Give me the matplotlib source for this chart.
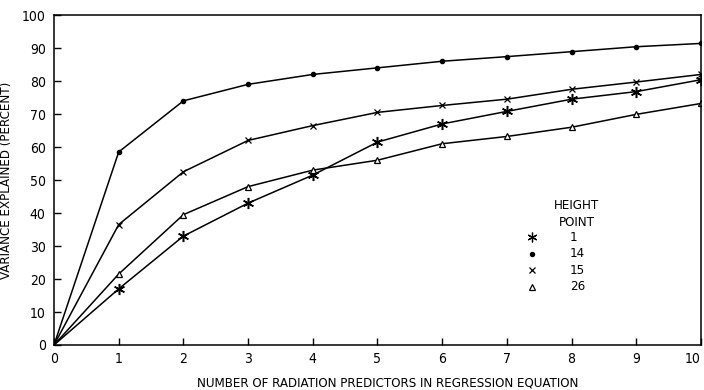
import matplotlib.pyplot as plt

plt.rcParams['font.family'] = ['DejaVu Sans']
plt.rcParams['font.stretch'] = 'condensed'

# number of predictors in the equation
npred = [0, 1, 2, 3, 4, 5, 6, 7, 8, 9, 10]

# variance explained (percent) for each height point
hp1 = [0, 17, 33, 43, 51.5, 61.5, 67, 70.8, 74.5, 76.8, 80.4]
hp14 = [0, 58.5, 74, 79, 82, 84, 86, 87.4, 88.9, 90.4, 91.4]
hp15 = [0, 36.5, 52.5, 62, 66.5, 70.5, 72.6, 74.5, 77.5, 79.7, 82]
hp26 = [0, 21.5, 39.5, 48, 53, 56, 61, 63.2, 66, 69.9, 73.2]

fig = plt.figure(figsize=(7.04, 3.90), dpi=100)
ax = fig.add_axes([0.0767, 0.1154, 0.919, 0.846])

star = (6, 2, 0)
marks = list(range(1, 11))
ax.plot(npred, hp1, color='black', lw=1.1, marker=star, ms=8, mew=1.1, markevery=marks)
ax.plot(npred, hp14, color='black', lw=1.1, marker='o', ms=3, markevery=marks)
ax.plot(npred, hp15, color='black', lw=1.1, marker='x', ms=5, mew=0.9, markevery=marks)
ax.plot(npred, hp26, color='black', lw=1.1, marker='^', ms=5, mfc='white', mew=0.9, markevery=marks)

ax.set_xlim(0, 10)
ax.set_ylim(0, 100)
ax.set_xticks(npred)
ax.set_yticks(range(0, 101, 10))
ax.tick_params(direction='in', length=5, width=1, labelsize=10)
ax.tick_params(axis='y', pad=6)
ax.tick_params(axis='x', pad=5)
ax.get_xticklabels()[-1].set_ha('right')
for s in ax.spines.values():
    s.set_linewidth(1.1)

ax.set_xlabel('NUMBER OF RADIATION PREDICTORS IN REGRESSION EQUATION', fontsize=9.5)
ax.xaxis.set_label_coords(0.515, -0.095)
ax.set_ylabel('VARIANCE EXPLAINED (PERCENT)', fontsize=9.5)
ax.yaxis.set_label_coords(-0.064, 0.5)

# hand-drawn style key
ax.text(8.08, 42.4, 'HEIGHT', ha='center', va='center', fontsize=9.5)
ax.text(8.08, 37, 'POINT', ha='center', va='center', fontsize=9.5)
keys = [(star, '1', 7, 'black'), ('o', '14', 3, 'black'), ('x', '15', 4.5, 'black'), ('^', '26', 4.5, 'white')]
for i, (m, lab, sz, fc) in enumerate(keys):
    yy = 32.7 - i * 5.0
    ax.plot([7.39], [yy], marker=m, ms=sz, color='black', mfc=fc, mew=0.9)
    ax.text(7.97, yy, lab, ha='left', va='center', fontsize=9.5)

fig.savefig('out.png', dpi=100)
